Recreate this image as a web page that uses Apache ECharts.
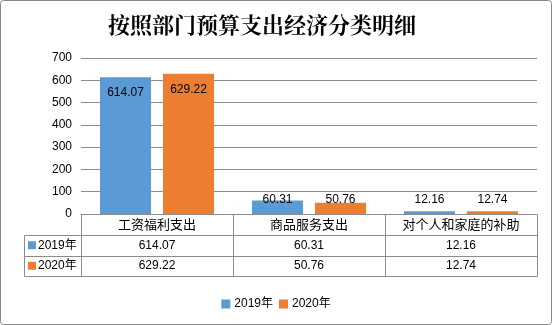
<!DOCTYPE html>
<html>
<head>
<meta charset="utf-8">
<style>html,body{margin:0;padding:0;background:#fff;}#c{width:552px;height:325px;}</style>
<script src="https://cdn.jsdelivr.net/npm/echarts@6/dist/echarts.min.js"></script>
</head>
<body>
<div id="c"></div>
<script>
const title = '按照部门预算支出经济分类明细';
const categories = ['工资福利支出', '商品服务支出', '对个人和家庭的补助'];
const seriesNames = ['2019年', '2020年'];
const values2019 = [614.07, 60.31, 12.16];
const values2020 = [629.22, 50.76, 12.74];
const yTicks = [0, 100, 200, 300, 400, 500, 600, 700];
const colors = ['#5B9BD5', '#ED7D31'];

const FONT = "'Liberation Sans', 'Noto Sans CJK SC', sans-serif";
const LINE = '#8c8c8c';
const chart = echarts.init(document.getElementById('c'), null, {renderer: 'canvas'});
const allValues = [values2019, values2020];

function baseOption(labelCfg, graphics) {
  return {
    animation: false,
    backgroundColor: '#fff',
    grid: {left: 81, right: 15, top: 58, bottom: 111},
    legend: {
      data: seriesNames, bottom: 10, left: 'center',
      icon: 'rect', itemWidth: 9, itemHeight: 9, itemGap: 6,
      textStyle: {fontFamily: FONT, fontSize: 12, color: '#000', padding: [0, 0, 0, -1]}
    },
    xAxis: {
      type: 'category', data: categories,
      axisLine: {show: true, lineStyle: {color: LINE, width: 1}},
      axisTick: {show: false},
      axisLabel: {fontFamily: FONT, fontSize: 13, color: '#000', margin: 5, interval: 0}
    },
    yAxis: {
      type: 'value', min: yTicks[0], max: yTicks[yTicks.length - 1], interval: 100,
      axisLine: {show: false}, axisTick: {show: false},
      axisLabel: {fontFamily: FONT, fontSize: 12, color: '#000', margin: 9},
      splitLine: {lineStyle: {color: LINE, width: 1}}
    },
    series: seriesNames.map((n, si) => ({
      name: n, type: 'bar', barWidth: 51, barGap: '23.5%',
      itemStyle: {color: colors[si]},
      data: allValues[si].map((v, i) => ({
        value: v,
        label: labelCfg ? labelCfg[si][i] : {show: false}
      }))
    })),
    graphic: graphics || []
  };
}

chart.setOption(baseOption(null, null));

// compute label positions & table from the axes' own scale
const yBase = chart.convertToPixel({gridIndex: 0}, [0, 0])[1];
const yLabelBottom = chart.convertToPixel({yAxisIndex: 0}, 38);
const labelCfg = allValues.map(arr => arr.map(v => {
  const top = chart.convertToPixel({yAxisIndex: 0}, v);
  const common = {show: true, fontFamily: FONT, fontSize: 12, color: '#000',
    formatter: p => p.value.toFixed(2)};
  if (v > 100) return Object.assign({position: 'insideTop', distance: 10}, common);
  return Object.assign({position: 'top', distance: top - yLabelBottom}, common);
}));

const c0 = chart.convertToPixel({xAxisIndex: 0}, 0);
const c1 = chart.convertToPixel({xAxisIndex: 0}, 1);
const bw = c1 - c0;
const xL = c0 - bw / 2;
const xR = xL + bw * categories.length;
const rowH = 20.5;
const y1 = yBase + 21, y2 = y1 + rowH, y3 = y2 + rowH;
const xLeg = 23.5;
const g = [];
const line = (x1, ya, x2, yb) => g.push({type: 'line', silent: true,
  shape: {x1: Math.round(x1) + 0.5, y1: Math.round(ya) + 0.5, x2: Math.round(x2) + 0.5, y2: Math.round(yb) + 0.5},
  style: {stroke: LINE, lineWidth: 1}});
line(xL, yBase, xL, y3);
for (let i = 1; i <= categories.length; i++) line(xL + bw * i, yBase, xL + bw * i, y3);
line(xLeg, y1, xLeg, y3);
[y1, y2, y3].forEach(y => line(xLeg, y, xR, y));
// row header cells
[y1, y2].forEach((y, si) => {
  g.push({type: 'rect', silent: true, shape: {x: xLeg + 4.5, y: y + rowH / 2 - 4, width: 8, height: 8},
    style: {fill: colors[si]}});
  g.push({type: 'text', silent: true, x: xLeg + 14.5, y: y + rowH / 2,
    style: {text: seriesNames[si], font: '12px ' + FONT, fill: '#000', textVerticalAlign: 'middle', verticalAlign: 'middle'}});
  allValues[si].forEach((v, i) => {
    g.push({type: 'text', silent: true, x: c0 + bw * i, y: y + rowH / 2,
      style: {text: v.toFixed(2), font: '12px ' + FONT, fill: '#000', align: 'center', verticalAlign: 'middle',
        textAlign: 'center', textVerticalAlign: 'middle'}});
  });
});
// title
g.push({type: 'text', silent: true, x: 262, y: 25,
  style: {text: title, font: 'bold 22px "Noto Serif CJK SC", "Noto Sans CJK SC", serif', fill: '#000', align: 'center', verticalAlign: 'middle',
    textAlign: 'center', textVerticalAlign: 'middle'}});
// outer border
g.push({type: 'rect', silent: true, shape: {x: 0.5, y: 0.5, width: 551, height: 324, r: 3},
  style: {fill: null, stroke: '#888', lineWidth: 1}, z: 100});

chart.setOption(baseOption(labelCfg, g), true);
</script>
</body>
</html>
